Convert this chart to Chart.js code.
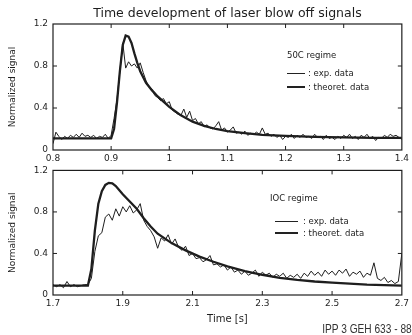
<!DOCTYPE html>
<html>
<head>
<meta charset="utf-8">
<script src="https://cdn.jsdelivr.net/npm/chart.js@4.4.1/dist/chart.umd.min.js"></script>
<style>
  body { margin: 0; background: #fff; width: 412px; height: 335px; overflow: hidden; position: relative; font-family: "DejaVu Sans", sans-serif; color: #222; }
  canvas { position: absolute; left: 0; }
  #c1 { top: 0; }
  #c2 { top: 160px; }
  .lab { position: absolute; font-size: 8.5px; line-height: 1; white-space: nowrap; }
  .seg { position: absolute; background: #222; }
  #foot { position: absolute; right: 0; top: 321px; font-family: "Liberation Sans", sans-serif; font-size: 13px; color: #333; white-space: nowrap; transform: scaleX(0.78); transform-origin: right top; }
</style>
</head>
<body>
<canvas id="c1" width="412" height="170"></canvas>
<canvas id="c2" width="412" height="175"></canvas>

<div class="lab" style="left:287px;top:51px">50C regime</div>
<div class="seg" style="left:287px;top:73px;width:18px;height:1px"></div>
<div class="lab" style="left:308px;top:69px">: exp. data</div>
<div class="seg" style="left:287px;top:86px;width:18px;height:2px"></div>
<div class="lab" style="left:308px;top:83px">: theoret. data</div>

<div class="lab" style="left:270px;top:194px">IOC regime</div>
<div class="seg" style="left:275px;top:221px;width:23px;height:1px"></div>
<div class="lab" style="left:303px;top:217px">: exp. data</div>
<div class="seg" style="left:275px;top:232px;width:23px;height:2px"></div>
<div class="lab" style="left:303px;top:229px">: theoret. data</div>

<div id="foot">IPP 3 GEH 633 - 88</div>

<script>
// 50C regime, experimental signal sampled every 5 ms from 0.8 s
const topExpStart = 0.8, topExpStep = 0.005;
const topExp = [
  0.06, 0.17, 0.13, 0.10, 0.13, 0.11, 0.14, 0.12, 0.15, 0.12,
  0.16, 0.13, 0.14, 0.12, 0.14, 0.11, 0.13, 0.12, 0.15, 0.11,
  0.14, 0.30, 0.48, 0.75, 1.02, 0.78, 0.84, 0.80, 0.82, 0.78,
  0.83, 0.74, 0.66, 0.60, 0.58, 0.52, 0.50, 0.47, 0.49, 0.44,
  0.46, 0.38, 0.36, 0.34, 0.33, 0.39, 0.31, 0.37, 0.28, 0.30,
  0.25, 0.27, 0.22, 0.24, 0.21, 0.20, 0.23, 0.27, 0.19, 0.21,
  0.17, 0.19, 0.22, 0.16, 0.17, 0.15, 0.18, 0.14, 0.16, 0.15,
  0.17, 0.15, 0.21, 0.15, 0.16, 0.13, 0.15, 0.12, 0.14, 0.10,
  0.13, 0.12, 0.15, 0.11, 0.14, 0.12, 0.15, 0.12, 0.13, 0.11,
  0.15, 0.12, 0.13, 0.10, 0.14, 0.11, 0.12, 0.10, 0.13, 0.11,
  0.14, 0.12, 0.15, 0.11, 0.13, 0.10, 0.14, 0.12, 0.15, 0.11,
  0.13, 0.09, 0.12, 0.11, 0.14, 0.12, 0.15, 0.13, 0.14, 0.12,
  0.10
];
const topTheoT = [0.80, 0.90, 0.905, 0.91, 0.915, 0.92, 0.925, 0.93, 0.935, 0.94, 0.945, 0.95, 0.96, 0.97, 0.98, 0.99, 1.00, 1.02, 1.04, 1.06, 1.08, 1.10, 1.13, 1.16, 1.20, 1.25, 1.30, 1.35, 1.40];
const topTheoV = [0.11, 0.11, 0.20, 0.45, 0.75, 1.00, 1.09, 1.08, 1.02, 0.92, 0.83, 0.75, 0.64, 0.57, 0.51, 0.46, 0.41, 0.33, 0.27, 0.23, 0.20, 0.18, 0.16, 0.145, 0.135, 0.125, 0.12, 0.115, 0.115];

// 10C regime, experimental signal sampled every 10 ms from 1.7 s
const botExpStart = 1.7, botExpStep = 0.01;
const botExp = [
  0.10, 0.08, 0.10, 0.07, 0.13, 0.08, 0.10, 0.08, 0.09, 0.10,
  0.10, 0.16, 0.42, 0.57, 0.60, 0.75, 0.78, 0.72, 0.83, 0.76,
  0.85, 0.80, 0.86, 0.79, 0.82, 0.88, 0.72, 0.66, 0.62, 0.56,
  0.45, 0.55, 0.52, 0.58, 0.49, 0.54, 0.46, 0.43, 0.47, 0.38,
  0.40, 0.35, 0.36, 0.32, 0.34, 0.38, 0.29, 0.30, 0.27, 0.29,
  0.24, 0.27, 0.22, 0.24, 0.20, 0.23, 0.19, 0.21, 0.24, 0.18,
  0.22, 0.19, 0.21, 0.17, 0.20, 0.18, 0.21, 0.16, 0.19, 0.17,
  0.20, 0.16, 0.21, 0.18, 0.23, 0.19, 0.22, 0.18, 0.24, 0.20,
  0.23, 0.19, 0.24, 0.21, 0.25, 0.18, 0.22, 0.20, 0.23, 0.17,
  0.21, 0.19, 0.31, 0.16, 0.14, 0.17, 0.12, 0.14, 0.11, 0.13,
  0.40
];
const botTheoT = [1.70, 1.80, 1.81, 1.82, 1.83, 1.84, 1.85, 1.86, 1.87, 1.88, 1.90, 1.92, 1.94, 1.96, 1.98, 2.00, 2.04, 2.08, 2.12, 2.16, 2.20, 2.25, 2.30, 2.35, 2.40, 2.45, 2.50, 2.55, 2.60, 2.65, 2.70];
const botTheoV = [0.09, 0.09, 0.25, 0.62, 0.88, 1.00, 1.06, 1.08, 1.075, 1.05, 0.97, 0.90, 0.83, 0.74, 0.66, 0.59, 0.50, 0.43, 0.37, 0.32, 0.275, 0.23, 0.195, 0.165, 0.145, 0.13, 0.12, 0.11, 0.10, 0.095, 0.09];

const topXTicks = [0.8, 0.9, 1, 1.1, 1.2, 1.3, 1.4];
const botXTicks = [1.7, 1.9, 2.1, 2.3, 2.5, 2.7];
const yTicks = [0, 0.4, 0.8, 1.2];

const INK = "#1e1e1e";
const FONT = "DejaVu Sans";

function sampled(start, step, vals) {
  return vals.map((v, i) => ({ x: +(start + i * step).toFixed(3), y: v }));
}
function paired(ts, vs) {
  return ts.map((t, i) => ({ x: t, y: vs[i] }));
}

// box around the plot with short inward tick marks
const frame = {
  id: "frame",
  afterDraw(chart) {
    const { ctx, chartArea: a, scales: { x, y } } = chart;
    ctx.save();
    ctx.strokeStyle = INK;
    ctx.lineWidth = 1.2;
    ctx.strokeRect(a.left, a.top, a.width, a.height);
    ctx.lineWidth = 1;
    ctx.beginPath();
    x.ticks.forEach(t => {
      const px = x.getPixelForValue(t.value);
      if (px < a.left + 2 || px > a.right - 2) return;
      ctx.moveTo(px, a.bottom); ctx.lineTo(px, a.bottom - 4);
      ctx.moveTo(px, a.top); ctx.lineTo(px, a.top + 4);
    });
    y.ticks.forEach(t => {
      const py = y.getPixelForValue(t.value);
      if (py < a.top + 2 || py > a.bottom - 2) return;
      ctx.moveTo(a.left, py); ctx.lineTo(a.left + 4, py);
      ctx.moveTo(a.right, py); ctx.lineTo(a.right - 4, py);
    });
    ctx.stroke();
    ctx.restore();
  }
};

function makeChart(id, expData, theoData, xMin, xMax, xTicks, opts) {
  return new Chart(document.getElementById(id), {
    type: "line",
    data: {
      datasets: [
        { data: theoData, borderColor: INK, borderWidth: 2.3 },
        { data: expData, borderColor: INK, borderWidth: 1 }
      ]
    },
    options: {
      responsive: false,
      animation: false,
      layout: { padding: { left: 0, right: 7, top: opts.padTop, bottom: 0 } },
      elements: { point: { radius: 0 }, line: { tension: 0 } },
      plugins: {
        legend: { display: false },
        tooltip: { enabled: false },
        title: opts.title
      },
      scales: {
        x: {
          type: "linear", min: xMin, max: xMax,
          afterBuildTicks: s => { s.ticks = xTicks.map(v => ({ value: v })); },
          afterFit: s => { s.height = opts.xHeight; },
          grid: { display: false, drawTicks: false },
          border: { display: false },
          ticks: { padding: 3, color: INK, font: { family: FONT, size: 9 }, maxRotation: 0, autoSkip: false, callback: v => String(v) },
          title: opts.xTitle
        },
        y: {
          min: 0, max: 1.2,
          afterBuildTicks: s => { s.ticks = yTicks.map(v => ({ value: v })); },
          afterFit: s => { s.width = 53; },
          grid: { display: false, drawTicks: false },
          border: { display: false },
          ticks: { padding: 5, color: INK, font: { family: FONT, size: 9 }, callback: v => String(v) },
          title: { display: true, text: "Normalized signal", color: INK, font: { family: FONT, size: 9 }, padding: { top: 7.5, bottom: 0 } }
        }
      }
    },
    plugins: [frame]
  });
}

makeChart("c1", sampled(topExpStart, topExpStep, topExp), paired(topTheoT, topTheoV), 0.8, 1.4, topXTicks, {
  padTop: 0,
  xHeight: 20,
  title: { display: true, fullSize: false, text: "Time development of laser blow off signals", color: INK, font: { family: FONT, size: 12.5, weight: "normal" }, padding: { top: 6, bottom: 3 } },
  xTitle: { display: false }
});

makeChart("c2", sampled(botExpStart, botExpStep, botExp), paired(botTheoT, botTheoV), 1.7, 2.7, botXTicks, {
  padTop: 10,
  xHeight: 40,
  title: { display: false },
  xTitle: { display: true, text: "Time [s]", color: INK, font: { family: FONT, size: 10 }, padding: { top: 0, bottom: 9.5 } }
});
</script>
</body>
</html>
